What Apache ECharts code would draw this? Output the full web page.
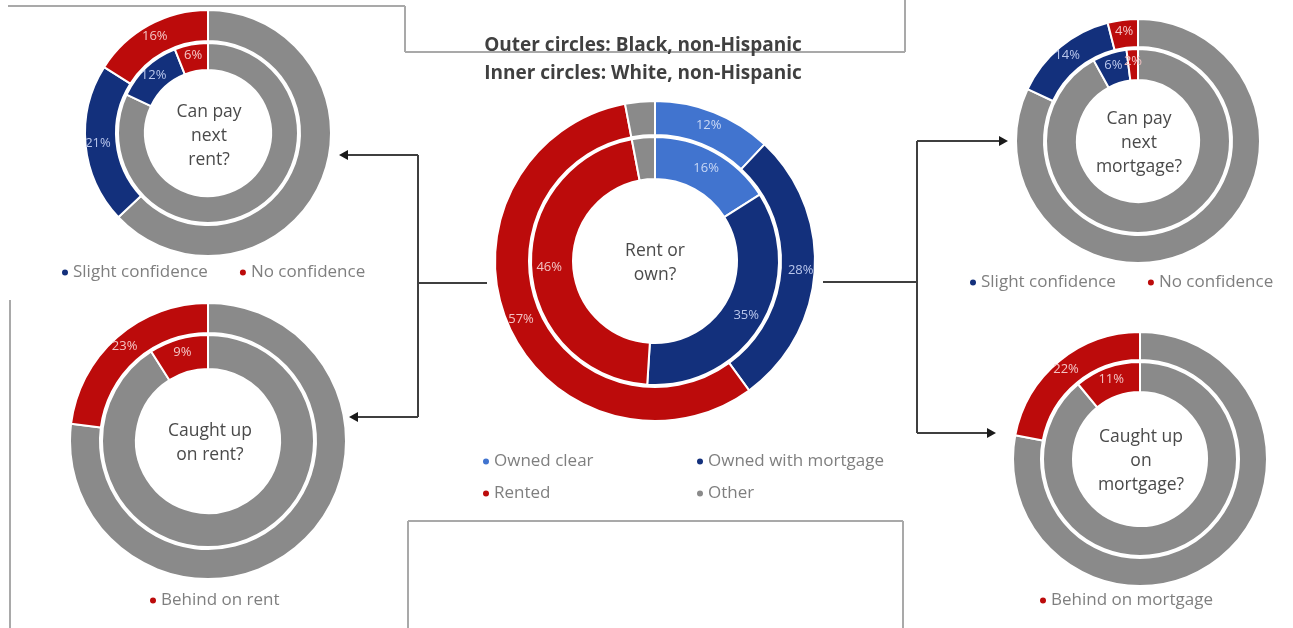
<!DOCTYPE html>
<html>
<head>
<meta charset="utf-8">
<script src="https://cdn.jsdelivr.net/npm/echarts@6/dist/echarts.min.js"></script>
<style>
html,body{margin:0;padding:0;background:#fff;}
#chart{width:1293px;height:628px;}
</style>
</head>
<body>
<div id="chart"></div>
<script>
// ---------- data ----------
const titleLines = ['Outer circles: Black, non-Hispanic', 'Inner circles: White, non-Hispanic'];

const tenureNames = ['Owned clear', 'Owned with mortgage', 'Rented', 'Other'];
const tenureOuter = [12, 28, 57, 3];   // Black, non-Hispanic
const tenureInner = [16, 35, 46, 3];   // White, non-Hispanic

const confNames = ['Confident', 'Slight confidence', 'No confidence'];
const payRentOuter = [63, 21, 16];
const payRentInner = [82, 12, 6];
const payMortOuter = [82, 14, 4];
const payMortInner = [92, 6, 2];

const rentBehindNames = ['Caught up', 'Behind on rent'];
const rentBehindOuter = [77, 23];
const rentBehindInner = [91, 9];

const mortBehindNames = ['Caught up', 'Behind on mortgage'];
const mortBehindOuter = [78, 22];
const mortBehindInner = [89, 11];

// ---------- styles ----------
const C = {
  light: '#4174cf',
  navy: '#13307c',
  red: '#bc0b0b',
  gray: '#8a8a8a'
};
const tenureColors = [C.light, C.navy, C.red, C.gray];
const confColors = [C.gray, C.navy, C.red];
const behindColors = [C.gray, C.red];
const labelColorFor = {};
labelColorFor[C.light] = '#c9d8f5';
labelColorFor[C.navy] = '#b9c6ec';
labelColorFor[C.red] = '#f3c3c3';
labelColorFor[C.gray] = '#eeeeee';

const FONT = '"Open Sans", "DejaVu Sans", sans-serif';

function buildData(names, values, colors, hideIdx) {
  return values.map((v, i) => ({
    name: names[i],
    value: v,
    itemStyle: { color: colors[i] },
    label: {
      show: hideIdx.indexOf(i) === -1,
      color: labelColorFor[colors[i]]
    }
  }));
}

function ring(center, radius, names, values, colors, hideIdx) {
  return {
    type: 'pie',
    center: center,
    radius: radius,
    startAngle: 90,
    clockwise: true,
    avoidLabelOverlap: false,
    silent: true,
    animation: false,
    itemStyle: { borderColor: '#ffffff', borderWidth: 2 },
    label: {
      show: true,
      position: 'inside',
      formatter: '{c}%',
      fontFamily: FONT,
      fontSize: 13
    },
    labelLine: { show: false },
    emphasis: { disabled: true },
    data: buildData(names, values, colors, hideIdx)
  };
}

const series = [
  // center: rent or own
  ring([655, 261], [126, 160], tenureNames, tenureOuter, tenureColors, [3]),
  ring([655, 261], [82, 124], tenureNames, tenureInner, tenureColors, [3]),
  // top-left: can pay next rent
  ring([208, 133], [92, 123], confNames, payRentOuter, confColors, [0]),
  ring([208, 133], [63, 90], confNames, payRentInner, confColors, [0]),
  // top-right: can pay next mortgage
  ring([1138, 141], [94, 122], confNames, payMortOuter, confColors, [0]),
  ring([1138, 141], [61, 92], confNames, payMortInner, confColors, [0]),
  // bottom-left: caught up on rent
  ring([208, 441], [108, 138], rentBehindNames, rentBehindOuter, behindColors, [0]),
  ring([208, 441], [72, 106], rentBehindNames, rentBehindInner, behindColors, [0]),
  // bottom-right: caught up on mortgage
  ring([1140, 459], [99, 127], mortBehindNames, mortBehindOuter, behindColors, [0]),
  ring([1140, 459], [67, 97], mortBehindNames, mortBehindInner, behindColors, [0])
];

function legend(left, top, names, orient, gap) {
  return {
    left: left, top: top, orient: orient || 'horizontal',
    data: names,
    icon: 'circle', itemWidth: 8, itemHeight: 8, itemGap: gap,
    selectedMode: false,
    textStyle: { color: '#7f7f7f', fontSize: 17, fontFamily: FONT, padding: [0, 0, 0, -1] }
  };
}

const legends = [
  legend(55, 259, [confNames[1], confNames[2]], 'horizontal', 30),
  legend(963, 269, [confNames[1], confNames[2]], 'horizontal', 30),
  legend(476, 448, [tenureNames[0], tenureNames[2]], 'vertical', 15),
  legend(690, 448, [tenureNames[1], tenureNames[3]], 'vertical', 15),
  legend(143, 587, [rentBehindNames[1]], 'horizontal', 20),
  legend(1033, 587, [mortBehindNames[1]], 'horizontal', 20)
];

// ---------- graphics ----------
const LINE = { stroke: '#3f3f3f', lineWidth: 2 };
const BOX = { stroke: '#a9a9a9', lineWidth: 2, fill: null };
function ln(x1, y1, x2, y2, st) {
  return { type: 'line', shape: { x1: x1, y1: y1, x2: x2, y2: y2 }, style: st, silent: true };
}
function arrowHead(x, y, dir) {
  const s = 9, h = 5;
  const pts = dir === 'left'
    ? [[x, y], [x + s, y - h], [x + s, y + h]]
    : [[x, y], [x - s, y - h], [x - s, y + h]];
  return { type: 'polygon', shape: { points: pts }, style: { fill: '#1a1a1a' }, silent: true };
}
function centerText(x, y, text) {
  return {
    type: 'text', x: x, y: y, silent: true,
    style: {
      text: text, fill: '#4a4a4a', font: '17.5px ' + FONT,
      align: 'center', verticalAlign: 'middle', lineHeight: 24
    }
  };
}

const graphics = [
  // frame / box fragments
  ln(8, 6, 405, 6, BOX),
  ln(405, 6, 405, 52, BOX),
  ln(405, 52, 905, 52, BOX),
  ln(905, 0, 905, 52, BOX),
  ln(10, 300, 10, 628, BOX),
  ln(408, 628, 408, 521, BOX),
  ln(408, 521, 903, 521, BOX),
  ln(903, 521, 903, 628, BOX),
  // left connector
  ln(487, 283, 418, 283, LINE),
  ln(418, 155, 418, 417, LINE),
  ln(418, 155, 346, 155, LINE),
  ln(418, 417, 356, 417, LINE),
  arrowHead(339, 155, 'left'),
  arrowHead(349, 417, 'left'),
  // right connector
  ln(823, 282, 917, 282, LINE),
  ln(917, 141, 917, 433, LINE),
  ln(917, 141, 1000, 141, LINE),
  ln(917, 433, 988, 433, LINE),
  arrowHead(1008, 141, 'right'),
  arrowHead(996, 433, 'right'),
  // title
  {
    type: 'text', x: 643, y: 46, silent: true,
    style: { text: titleLines[0], fill: '#404040', font: 'bold 19px ' + FONT, align: 'center', verticalAlign: 'middle' }
  },
  {
    type: 'text', x: 643, y: 74, silent: true,
    style: { text: titleLines[1], fill: '#404040', font: 'bold 19px ' + FONT, align: 'center', verticalAlign: 'middle' }
  },
  // center captions
  centerText(655, 263, 'Rent or\nown?'),
  centerText(209, 136, 'Can pay\nnext\nrent?'),
  centerText(1139, 143, 'Can pay\nnext\nmortgage?'),
  centerText(210, 443, 'Caught up\non rent?'),
  centerText(1141, 461, 'Caught up\non\nmortgage?')
];

const chart = echarts.init(document.getElementById('chart'), null, { renderer: 'canvas' });
chart.setOption({
  backgroundColor: '#ffffff',
  animation: false,
  legend: legends,
  series: series,
  graphic: graphics
});
</script>
</body>
</html>
